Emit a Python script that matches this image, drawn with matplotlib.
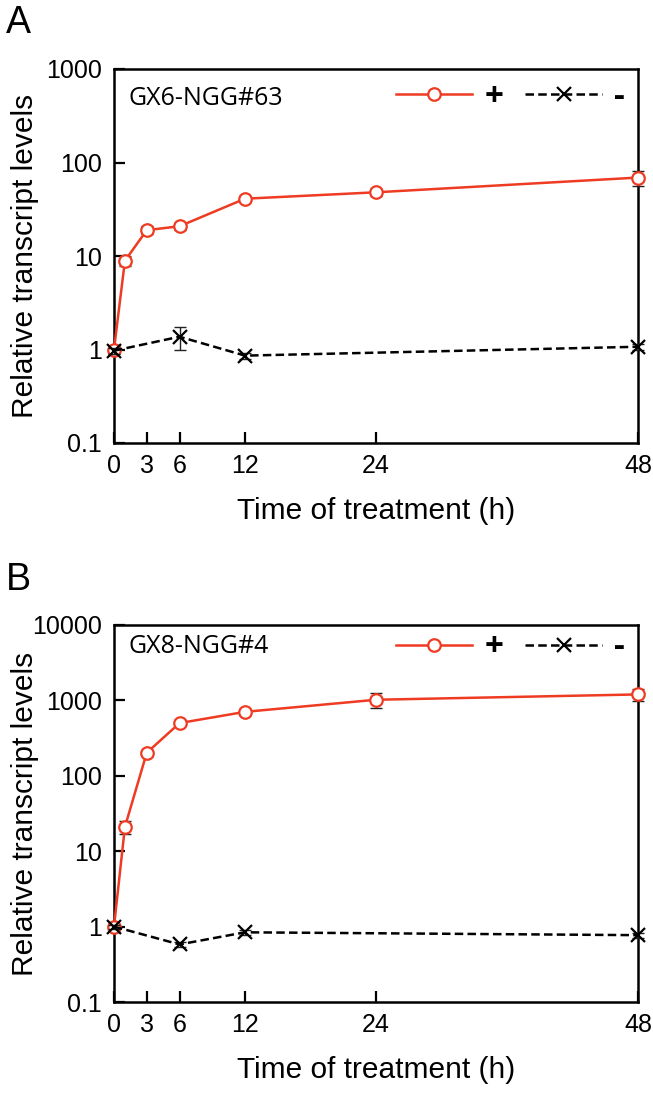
import matplotlib
matplotlib.use('Agg')
import matplotlib.pyplot as plt

# ---- data ----
time_plus = [0, 1, 3, 6, 12, 24, 48]
time_minus = [0, 6, 12, 48]

a_plus = [1.0, 8.9, 18.9, 20.8, 41.0, 48.0, 69.0]
a_plus_err = [0.08, 1.0, 1.8, 1.8, 3.0, 4.5, 13.0]
a_minus = [0.97, 1.37, 0.86, 1.07]
a_minus_err = [0.08, 0.38, 0.06, 0.08]

b_plus = [1.0, 21.0, 202.0, 500.0, 705.0, 1020.0, 1200.0]
b_plus_err = [0.08, 4.0, 20.0, 40.0, 60.0, 220.0, 220.0]
b_minus = [1.0, 0.58, 0.84, 0.77]
b_minus_err = [0.06, 0.05, 0.06, 0.06]

x_ticks = [0, 3, 6, 12, 24, 48]
x_ticklabels = ['0', '3', '6', '12', '24', '48']
a_yticks = [0.1, 1, 10, 100, 1000]
a_yticklabels = ['0.1', '1', '10', '100', '1000']
b_yticks = [0.1, 1, 10, 100, 1000, 10000]
b_yticklabels = ['0.1', '1', '10', '100', '1000', '10000']

panel_names = ['GX6-NGG#63', 'GX8-NGG#4']
legend_labels = ['+', '-']
xlabel = 'Time of treatment (h)'
ylabel = 'Relative transcript levels'

RED = '#EE3B22'
plt.rcParams['font.family'] = ['Liberation Sans', 'DejaVu Sans']

W, H = 653, 1098
fig = plt.figure(figsize=(W / 100, H / 100), dpi=100)


def make_panel(rect, plus, plus_err, minus, minus_err, yticks, yticklabels,
               name, name_y, leg_y, letter, letter_y):
    ax = fig.add_axes(rect)
    ax.set_yscale('log')
    ax.set_xlim(0, 48)
    ax.set_ylim(yticks[0], yticks[-1])
    ax.set_xticks(x_ticks)
    ax.set_xticklabels(x_ticklabels)
    ax.set_yticks(yticks)
    ax.set_yticklabels(yticklabels)
    ax.yaxis.set_minor_locator(matplotlib.ticker.NullLocator())
    ax.tick_params(axis='both', which='major', direction='in', length=8,
                   width=1.6, labelsize=18)
    ax.tick_params(axis='x', pad=8)
    ax.tick_params(axis='y', pad=9)
    for s in ax.spines.values():
        s.set_linewidth(1.8)

    # error bars
    ax.errorbar(time_plus, plus, yerr=plus_err, fmt='none', ecolor='#222222',
                elinewidth=1.0, capsize=4.5, capthick=1.0, zorder=3, clip_on=False)
    ax.errorbar(time_minus, minus, yerr=minus_err, fmt='none', ecolor='#222222',
                elinewidth=1.0, capsize=4.5, capthick=1.0, zorder=5, clip_on=False)
    # lines
    l1, = ax.plot(time_plus, plus, color=RED, lw=1.8, marker='o', ms=9,
                  mfc='white', mec=RED, mew=1.6, zorder=4, clip_on=False)
    l2, = ax.plot(time_minus, minus, color='black', lw=1.8, ls=(0, (3.4, 1.7)),
                  marker='x', ms=10, mec='black', mew=1.6, zorder=6, clip_on=False)

    ax.text(0.027, name_y, name, transform=ax.transAxes, fontsize=18,
            family='Open Sans', va='center', ha='left')

    ax.legend([l1, l2], legend_labels, ncol=2, frameon=False,
              loc='center right', bbox_to_anchor=(0.975, leg_y),
              borderpad=0, borderaxespad=0, handlelength=2.3,
              handletextpad=0.36, columnspacing=0.67,
              prop={'family': 'Open Sans', 'size': 24, 'weight': 'bold'})

    ax.set_xlabel(xlabel, fontsize=21.5)
    ax.set_ylabel(ylabel, fontsize=21.5)
    ax.yaxis.set_label_coords(-0.143, 0.5)
    ax.xaxis.set_label_coords(0.5, -0.144)

    fig.text(6 / W, 1 - letter_y / H, letter, fontsize=27, va='center', ha='left')
    return ax


axA = make_panel([114 / W, 1 - 443 / H, 524 / W, (443 - 69) / H],
                 a_plus, a_plus_err, a_minus, a_minus_err,
                 a_yticks, a_yticklabels, panel_names[0], 0.922, 0.925, 'A', 23)
axB = make_panel([114 / W, 1 - 1002 / H, 524 / W, (1002 - 625) / H],
                 b_plus, b_plus_err, b_minus, b_minus_err,
                 b_yticks, b_yticklabels, panel_names[1], 0.942, 0.939, 'B', 580)

fig.savefig('out.png', dpi=100)
